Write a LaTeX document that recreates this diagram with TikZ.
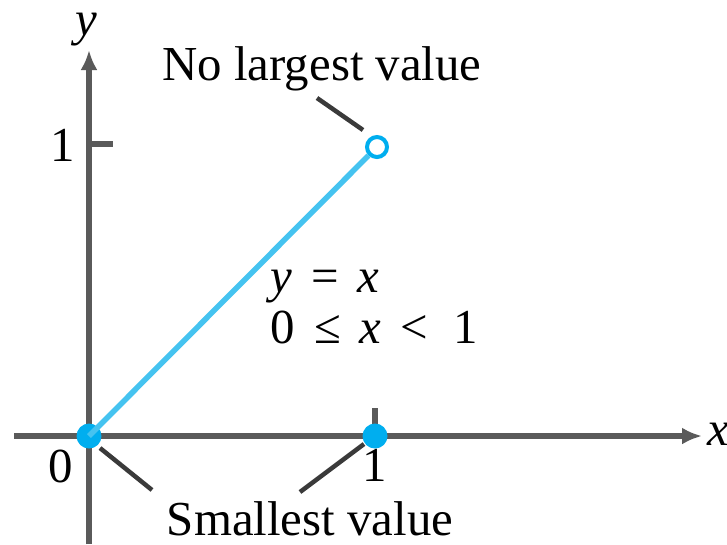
\documentclass[tikz,border=0pt]{standalone}
\usepackage{fontspec}
\setmainfont{Liberation Serif}
\usetikzlibrary{arrows.meta}
\definecolor{axisgray}{HTML}{5A5A5A}
\definecolor{leadgray}{HTML}{3A3A3A}
\definecolor{dotblue}{HTML}{00AEEF}
\definecolor{lineblue}{HTML}{45C3F0}
\newcommand{\gp}{\hspace{1.9mm}}
\tikzset{
  axis/.style={draw=axisgray, line width=0.6mm, -{Latex[length=2mm,width=1.7mm]}},
  tickmark/.style={draw=axisgray, line width=0.6mm},
  leader/.style={draw=leadgray, line width=0.45mm},
  lbl/.style={font=\fontsize{13.9}{16}\selectfont, inner sep=0pt},
  filleddot/.style={circle, fill=dotblue, minimum size=2.5mm, inner sep=0pt},
  opendot/.style={circle, draw=dotblue, fill=white, line width=0.4mm, minimum size=2mm, inner sep=0pt},
  graphline/.style={draw=lineblue, line width=0.55mm}
}
\begin{document}
\begin{tikzpicture}[x=0.1mm, y=-0.1mm]
\useasboundingbox (0,0) rectangle (727,544);
% axes
\coordinate (xs) at (14,436);
\coordinate (xe) at (702,436);
\coordinate (ys) at (89,544);
\coordinate (ye) at (89,50);
\draw[axis] (xs) -- (xe);
\draw[axis] (ys) -- (ye);
% ticks
\coordinate (t1a) at (375,408);
\coordinate (t1b) at (375,436);
\draw[tickmark] (t1a) -- (t1b);
\coordinate (t2a) at (89,144);
\coordinate (t2b) at (113,144);
\draw[tickmark] (t2a) -- (t2b);
% graph
\node[filleddot] (O) at (89,436) {};
\node[filleddot] (P) at (375,436) {};
\node[opendot] (Q) at (377,147) {};
\draw[graphline] (O.center) -- (Q);
% labels
\node[lbl, anchor=base] (ylab) at (86,35) {\textit{y}};
\node[lbl] (xlab) at (718,434) {\textit{x}};
\node[lbl] (one y) at (63,145) {1};
\node[lbl] (zero) at (61,466) {0};
\node[lbl] (one x) at (375,465) {1};
\node[lbl, anchor=base] (nolarge) at (322,80) {No largest value};
\node[lbl, anchor=base west] (eq) at (270,292) {\textit{y}\gp=\gp\textit{x}};
\node[lbl, anchor=base west] (dom) at (270,343) {0\gp≤\gp\textit{x}\gp<\hspace{2.5mm}1};
\node[lbl, anchor=base] (small) at (310,535) {Smallest value};
% leaders
\coordinate (l1a) at (317,98);
\coordinate (l1b) at (363,130);
\draw[leader] (l1a) -- (l1b);
\coordinate (l2a) at (100,448);
\coordinate (l2b) at (152,490);
\draw[leader] (l2a) -- (l2b);
\coordinate (l3a) at (300,492);
\coordinate (l3b) at (364,444);
\draw[leader] (l3a) -- (l3b);
\end{tikzpicture}
\end{document}
